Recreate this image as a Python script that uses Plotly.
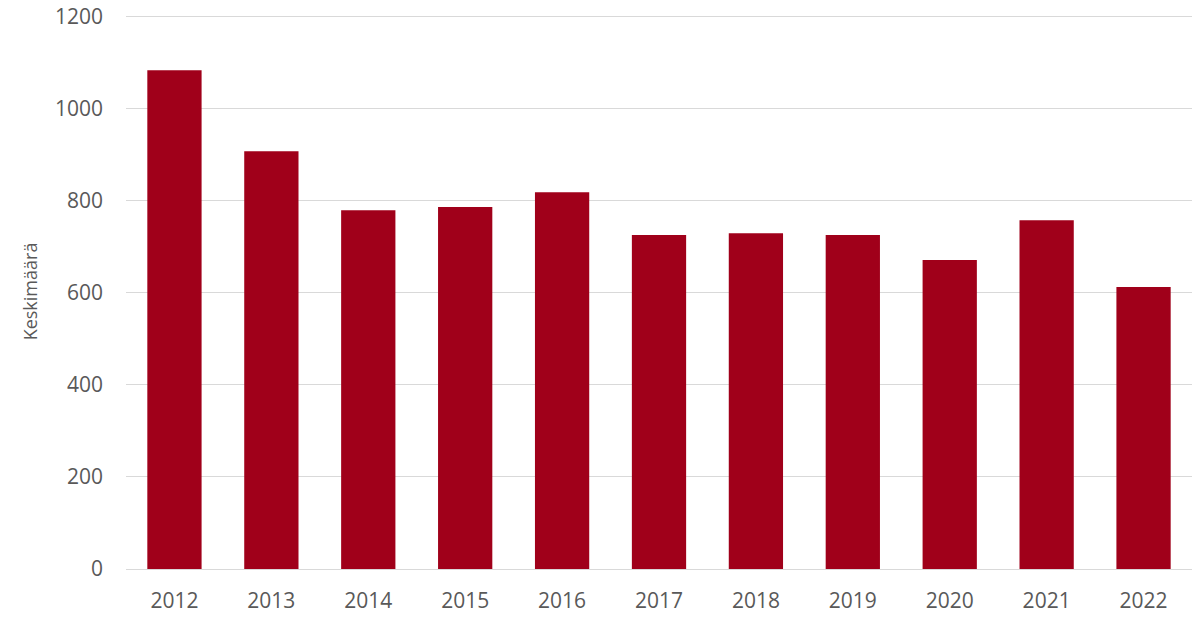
import plotly.graph_objects as go

YEARS = ["2012", "2013", "2014", "2015", "2016", "2017",
         "2018", "2019", "2020", "2021", "2022"]
AVERAGES = [1083, 907, 779, 786, 818, 725, 729, 725, 671, 757, 612]

BAR_COLOR = "#a0001a"
TEXT_COLOR = "#595959"
GRID_COLOR = "#d9d9d9"
FONT = "Open Sans"

fig = go.Figure(
    go.Bar(
        x=YEARS,
        y=AVERAGES,
        marker={"color": BAR_COLOR, "line": {"width": 0}},
        hovertemplate="%{x}: %{y}<extra></extra>",
    )
)

fig.update_layout(
    width=1200,
    height=617,
    margin={"l": 126, "r": 8, "t": 14, "b": 48},
    plot_bgcolor="#fff",
    paper_bgcolor="#fff",
    bargap=0.44,
    showlegend=False,
    font={"family": FONT, "color": TEXT_COLOR, "size": 21},
)
fig.update_xaxes(
    type="category",
    automargin=False,
    showgrid=False,
    showline=True,
    linecolor=GRID_COLOR,
    linewidth=1,
    ticks="",
    ticklabelstandoff=13,
    tickfont={"size": 21, "color": TEXT_COLOR},
)
# range runs a bit past 1200 so the top gridline is not clipped
fig.update_yaxes(
    range=[0, 1205],
    tickvals=[0, 200, 400, 600, 800, 1000, 1200],
    automargin=False,
    showgrid=True,
    gridcolor=GRID_COLOR,
    gridwidth=1,
    zeroline=False,
    showline=False,
    ticks="",
    ticklabelstandoff=22,
    tickfont={"size": 21, "color": TEXT_COLOR},
    title={"text": "Keskimäärä", "font": {"size": 18, "color": TEXT_COLOR}, "standoff": 12},
)

# drop the default body margin so the figure fills the window exactly
fig.write_html(
    "out.html",
    post_script="document.body.style.margin = '0';",
    config={"displayModeBar": False},
)
